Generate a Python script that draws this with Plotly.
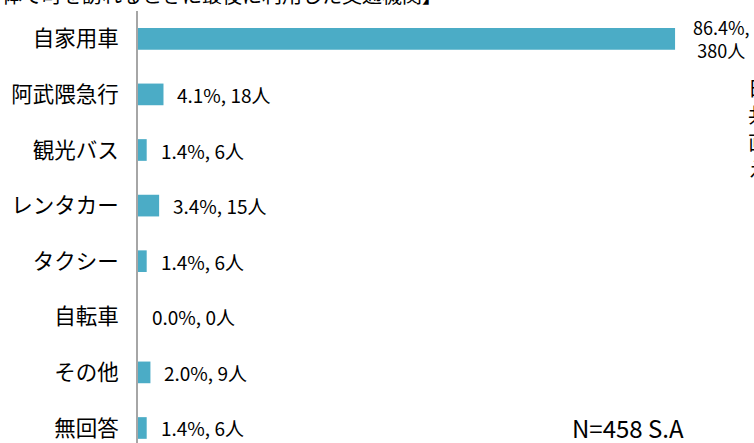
import plotly.graph_objects as go

categories = ["自家用車", "阿武隈急行", "観光バス", "レンタカー", "タクシー", "自転車", "その他", "無回答"]
percents = [86.4, 4.1, 1.4, 3.4, 1.4, 0.0, 2.0, 1.4]
counts = [380, 18, 6, 15, 6, 0, 9, 6]
note = "N=458 S.A"
title = "体で町を訪れるときに最後に利用した交通機関】"
side_chars = ["日", "共", "直", "え"]

W, H = 754, 443
L, R, T, B = 138, 0, 11, 0
plot_w = W - L - R
plot_h = H - T - B
xmax = 99.1

font = "Noto Sans CJK JP"
bar_color = "#4BACC6"

fig = go.Figure()
fig.add_trace(go.Bar(
    y=categories, x=percents, orientation="h",
    marker=dict(color=bar_color, line=dict(width=0)),
    width=0.39, hoverinfo="skip",
))

annotations = []
for c, p, n in zip(categories, percents, counts):
    if p > 50:
        txt = f"{p:.1f}%,<br>{n}人"
        annotations.append(dict(x=p, y=c, xref="x", yref="y", text=txt, showarrow=False,
                                xanchor="left", xshift=16, align="center",
                                font=dict(family=font, size=18, color="#000")))
    else:
        txt = f"{p:.1f}%, {n}人"
        annotations.append(dict(x=p, y=c, xref="x", yref="y", text=txt, showarrow=False,
                                xanchor="left", xshift=12,
                                font=dict(family=font, size=19, color="#000")))

annotations.append(dict(x=(570 - L) / plot_w, y=0, xref="paper", yref="paper",
                        text=note, showarrow=False, xanchor="left", yanchor="bottom", yshift=-4,
                        font=dict(family=font, size=24, color="#000")))
for i, ch in enumerate(side_chars):
    cy = 88 + 27 * i
    annotations.append(dict(x=(746 - L) / plot_w, y=1 - (cy - T) / plot_h, xref="paper", yref="paper",
                            text=ch, showarrow=False, xanchor="left", yanchor="middle",
                            font=dict(family=font, size=20, color="#000")))
annotations.append(dict(x=-L / plot_w, y=1, xref="paper", yref="paper",
                        text=title, showarrow=False, xanchor="left", yanchor="bottom",
                        yshift=0,
                        font=dict(family=font, size=20, color="#000")))

fig.update_layout(
    width=W, height=H,
    margin=dict(l=L, r=R, t=T, b=B),
    paper_bgcolor="white", plot_bgcolor="white",
    showlegend=False,
    annotations=annotations,
    xaxis=dict(range=[0, xmax], visible=False, fixedrange=True),
    yaxis=dict(categoryorder="array", categoryarray=categories,
               range=[7.27, -0.5], showgrid=False, zeroline=False,
               showline=True, linecolor="#A6A6A6", linewidth=2,
               ticks="", ticklabelstandoff=13,
               tickfont=dict(family=font, size=21.5, color="#000")),
)

fig.write_html("out.html")
